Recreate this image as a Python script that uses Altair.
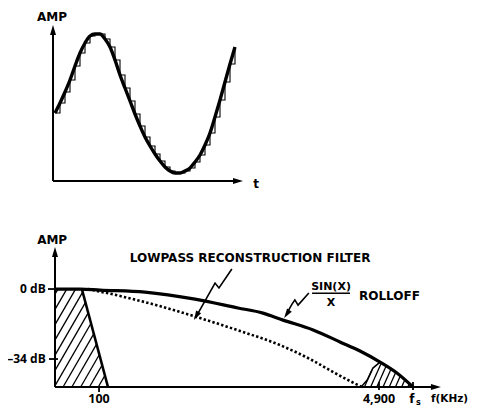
import altair as alt
import pandas as pd
import numpy as np

# ---------------- layout ----------------
W, H = 461, 400

# ---------------- top panel data (sample index, amplitude) ----------------
sample_t = list(range(37))
sample_amp = [6.8, 7.8, 8.9, 10.1, 11.5, 12.8, 13.8, 14.5, 14.7, 14.7, 14.2, 13.4,
              12.1, 10.6, 9.3, 8.0, 6.7, 5.5, 4.4, 3.5, 2.7, 2.0, 1.4, 1.0, 0.8,
              0.8, 1.0, 1.3, 1.9, 2.6, 3.6, 4.8, 6.4, 8.1, 9.9, 11.7, 13.4]

# ---------------- bottom panel data (schematic frequency, dB) ----------------
rolloff_f = [0, 7.0, 12.6, 25.1, 39.1, 51.1, 58.1, 63.7, 72.1, 79.6, 85.2, 90.8, 95.5, 100]
rolloff_db = [0, 0, -0.5, -1.5, -4.9, -9.2, -11.7, -15.1, -19.9, -25.7, -30.1, -35.5, -40.8, -47.6]

filter_f = [9.2, 18.2, 29.3, 40.5, 51.7, 62.8, 71.2, 78.2, 82.4, 85.8]
filter_db = [0, -3.4, -8.3, -14.1, -20.4, -27.2, -34.0, -40.8, -44.7, -47.6]

band_f = [0, 7.5, 14.8, 0]
band_db = [0, 0, -47.6, -47.6]

image_edge_f = [85.5, 87.2, 88.8, 90.8]
image_edge_db = [-47.6, -44.2, -38.4, -35.5]
image_f = image_edge_f + [95.5, 100]
image_db = image_edge_db + [-40.8, -47.6]

tick_labels = ["100", "4,900"]
tick_f = [12.3, 90.5]
db_labels = ["0 dB", "\u201334 dB"]
db_values = [0, -34]
F_S = 100
FLOOR_DB = -47.6

lead1_f = [49.4, 45.8, 44.7, 43.6, 39.7]
lead1_db = [9.7, 0.5, 2.9, -0.5, -12.6]
lead2_f = [70.9, 67.9, 67.0, 66.2, 64.8]
lead2_db = [-1.9, -7.8, -5.3, -7.3, -11.7]

# ---------------- scales ----------------
T_PX, A_PX = 5.0, 10.0
t0, a_top = -9.4, 17.3
top_x = alt.Scale(domain=[t0, t0 + W / T_PX], nice=False, zero=False)
top_y = alt.Scale(domain=[a_top - H / A_PX, a_top], nice=False, zero=False)

U_PX, D_PX = 3.58, 2.0588
u0, d_top = -13.13, 136.5
bot_x = alt.Scale(domain=[u0, u0 + W / U_PX], nice=False, zero=False)
bot_y = alt.Scale(domain=[d_top - H / D_PX, d_top], nice=False, zero=False)

CAPS = "DejaVu Sans"
NUMS = "Open Sans"
ARROW = "M0,0 L0.6,2 L-0.6,2 Z"


def enc(xs, ys):
    return dict(x=alt.X("x:Q", scale=xs, axis=None), y=alt.Y("y:Q", scale=ys, axis=None))


def line(df, xs, ys, **kw):
    return alt.Chart(df).mark_line(color="black", **kw).encode(**enc(xs, ys), order="i:O")


def rules(df, xs, ys, **kw):
    return alt.Chart(df).mark_rule(color="black", **kw).encode(
        x=alt.X("x:Q", scale=xs, axis=None), y=alt.Y("y:Q", scale=ys, axis=None),
        x2="x2:Q", y2="y2:Q")


def texts(df, xs, ys, **kw):
    p = dict(font=CAPS, fontWeight="bold", fontSize=12, color="black", baseline="middle")
    p.update(kw)
    return alt.Chart(df).mark_text(**p).encode(**enc(xs, ys), text="text:N")


def arrow(x, y, ang, xs, ys, size=100):
    return alt.Chart(pd.DataFrame({"x": [x], "y": [y]})).mark_point(
        shape=ARROW, filled=True, size=size, angle=ang, color="black", opacity=1,
        strokeWidth=0).encode(**enc(xs, ys))


def seq(xs_, ys_):
    return pd.DataFrame({"x": xs_, "y": ys_, "i": range(len(xs_))})


# ---------------- hatching (visual decoration derived from region outlines) ----
def pip(x, y, pts):
    inside = False
    n = len(pts)
    for k in range(n):
        x1, y1 = pts[k]
        x2, y2 = pts[(k + 1) % n]
        if (y1 > y) != (y2 > y):
            xc = x1 + (y - y1) * (x2 - x1) / (y2 - y1)
            if x < xc:
                inside = not inside
    return inside


def hatch(fs, dbs, angle, spacing, offset=0.0):
    pts = [((f - u0) * U_PX, (d_top - d) * D_PX) for f, d in zip(fs, dbs)]
    xs_ = [p[0] for p in pts]
    ys_ = [p[1] for p in pts]
    ymin, ymax = min(ys_), max(ys_)
    k = 1 / np.tan(np.radians(angle))
    rows = []
    c = min(xs_) - (ymax - ymin) * k + offset
    yy = np.linspace(ymin + 0.3, ymax - 0.3, 500)
    while c < max(xs_):
        ins = [(c + (ymax - y) * k, y) for y in yy if pip(c + (ymax - y) * k, y, pts)]
        if len(ins) >= 2:
            (xa, ya), (xb, yb) = ins[0], ins[-1]
            rows.append({"x": xa / U_PX + u0, "y": d_top - ya / D_PX,
                         "x2": xb / U_PX + u0, "y2": d_top - yb / D_PX})
        c += spacing
    return pd.DataFrame(rows)


# ---------------- top panel ----------------
samples = seq(sample_t, sample_amp)
top_layers = [
    line(samples, top_x, top_y, interpolate="step-after", strokeWidth=1.1),
    line(samples, top_x, top_y, interpolate="monotone", strokeWidth=3.4),
    line(seq([-0.4, -0.4], [0, 15.1]), top_x, top_y, strokeWidth=2),
    line(seq([-0.4, 37.0], [0, 0]), top_x, top_y, strokeWidth=2),
    arrow(-0.4, 15.6, 0, top_x, top_y),
    arrow(37.6, 0, 90, top_x, top_y),
    texts(pd.DataFrame({"x": [-0.6], "y": [16.4], "text": ["AMP"]}), top_x, top_y),
    texts(pd.DataFrame({"x": [40.2], "y": [-0.3], "text": ["t"]}), top_x, top_y),
]
top = alt.layer(*top_layers)

# ---------------- bottom panel ----------------
h1 = hatch(band_f, band_db, 60, 8.8, 3.0)
h2 = hatch(image_f, image_db, 66, 6.2, 2.0)

bottom_layers = [
    rules(h1, bot_x, bot_y, strokeWidth=1.3),
    rules(h2, bot_x, bot_y, strokeWidth=1.3),
    line(seq(band_f[1:3], band_db[1:3]), bot_x, bot_y, strokeWidth=2.6),
    line(seq(image_edge_f, image_edge_db), bot_x, bot_y, strokeWidth=1.5),
    line(seq(filter_f, filter_db), bot_x, bot_y, strokeWidth=2.6, strokeDash=[2.4, 2.2],
         interpolate="monotone"),
    line(seq(rolloff_f, rolloff_db), bot_x, bot_y, strokeWidth=3.2, interpolate="monotone"),
    # axes
    line(seq([0, 0], [FLOOR_DB, 18.0]), bot_x, bot_y, strokeWidth=2),
    line(seq([0, 106.4], [FLOOR_DB, FLOOR_DB]), bot_x, bot_y, strokeWidth=2),
    arrow(0, 20.4, 0, bot_x, bot_y),
    arrow(107.8, FLOOR_DB, 90, bot_x, bot_y),
    rules(pd.DataFrame({"x": [-1.96, -1.68], "y": db_values, "x2": [0, 0.84], "y2": db_values}),
          bot_x, bot_y, strokeWidth=1.8),
    rules(pd.DataFrame({"x": tick_f + [F_S], "y": [-47.6, -45.2, -45.2],
                        "x2": tick_f + [F_S], "y2": [-50.0, -49.1, -49.1]}),
          bot_x, bot_y, strokeWidth=1.8),
    texts(pd.DataFrame({"x": [-2.6, -2.6], "y": db_values, "text": db_labels}),
          bot_x, bot_y, align="right", font=NUMS, fontSize=12),
    texts(pd.DataFrame({"x": tick_f, "y": [-53.6, -53.6], "text": tick_labels}), bot_x, bot_y,
          font=NUMS, fontSize=12.5),
    texts(pd.DataFrame({"x": [99.7], "y": [-53.6], "text": ["f"]}), bot_x, bot_y),
    texts(pd.DataFrame({"x": [101.5], "y": [-55.6], "text": ["s"]}), bot_x, bot_y, fontSize=8),
    texts(pd.DataFrame({"x": [105.0], "y": [-53.6], "text": ["f(KHz)"]}), bot_x, bot_y,
          align="left", fontSize=10.5),
    texts(pd.DataFrame({"x": [-0.8], "y": [23.8], "text": ["AMP"]}), bot_x, bot_y),
    texts(pd.DataFrame({"x": [54.5], "y": [15.1], "text": ["LOWPASS RECONSTRUCTION FILTER"]}),
          bot_x, bot_y),
    texts(pd.DataFrame({"x": [77.1], "y": [1.2], "text": ["SIN(X)"]}), bot_x, bot_y,
          fontSize=11),
    texts(pd.DataFrame({"x": [77.1], "y": [-6.6], "text": ["X"]}), bot_x, bot_y,
          fontSize=11),
    line(seq([71.8, 82.4], [-2.0, -2.0]), bot_x, bot_y, strokeWidth=1.5),
    texts(pd.DataFrame({"x": [84.9], "y": [-3.4], "text": ["ROLLOFF"]}), bot_x, bot_y,
          align="left"),
    line(seq(lead1_f, lead1_db), bot_x, bot_y, strokeWidth=1.6),
    line(seq(lead2_f, lead2_db), bot_x, bot_y, strokeWidth=1.6),
    arrow(38.8, -15.1, 210, bot_x, bot_y, size=90),
    arrow(64.0, -14.1, 214, bot_x, bot_y, size=90),
]
bottom = alt.layer(*bottom_layers)

chart = alt.layer(top, bottom).resolve_scale(x="independent", y="independent").properties(
    width=W, height=H, padding=0, autosize=alt.AutoSizeParams(type="none"),
    background="white"
).configure_view(stroke=None)

chart.save("out.html", embed_options={"renderer": "svg", "actions": False})
